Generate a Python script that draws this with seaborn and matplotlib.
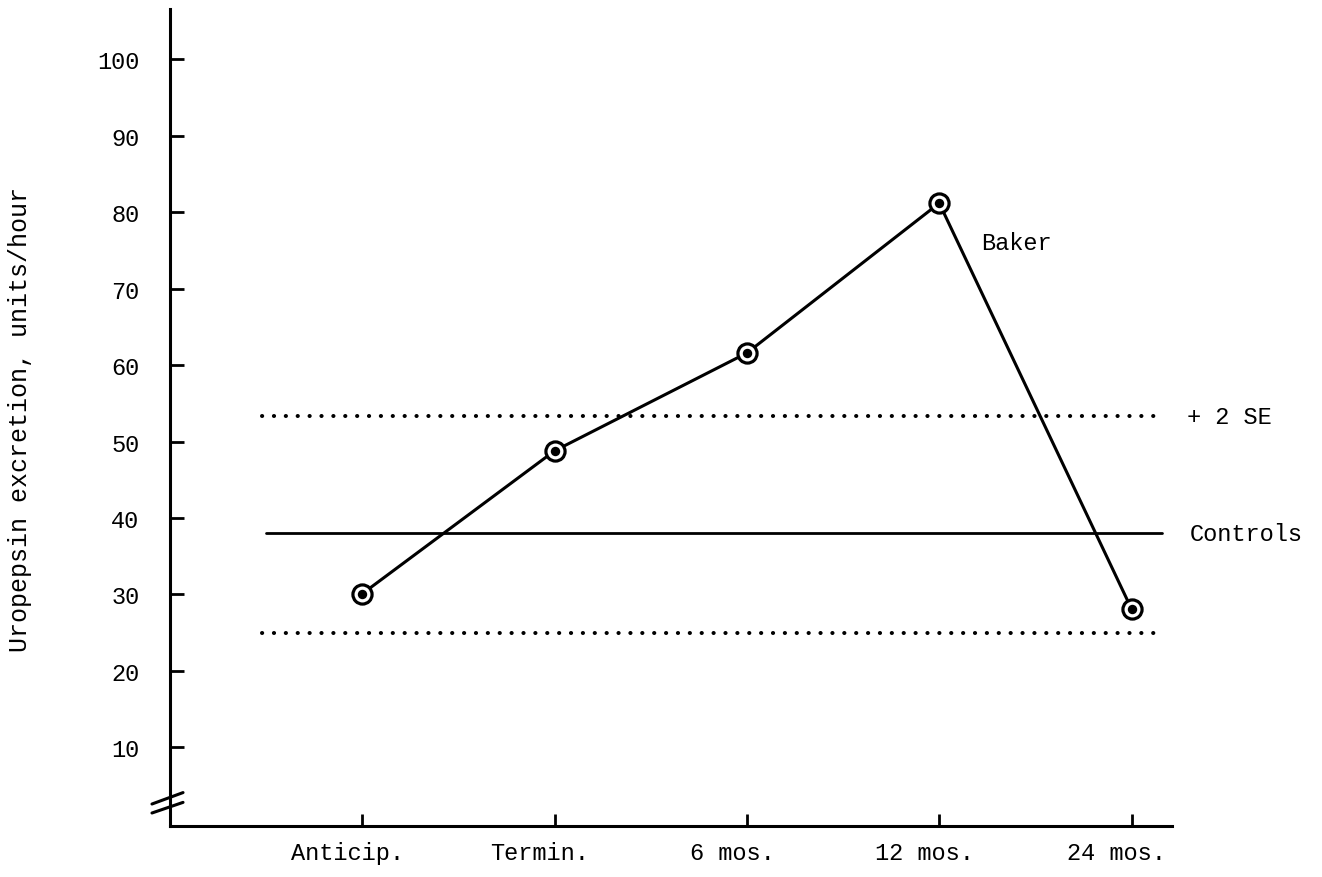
import numpy as np
import pandas as pd
import matplotlib
matplotlib.use("Agg")
import matplotlib.pyplot as plt
import matplotlib.transforms as mtransforms
import seaborn as sns

# Uropepsin excretion over the course of treatment (units/hour)
periods = ["Anticip.", "Termin.", "6 mos.", "12 mos.", "24 mos."]
baker = [30.1, 48.8, 61.6, 81.2, 28.1]

# Control group mean and +/- 2 SE band
control_mean = 38.0
control_upper = 53.3
control_lower = 24.9

ytick_values = [10, 20, 30, 40, 50, 60, 70, 80, 90, 100]

sns.set_theme(style="white")
plt.rcParams["font.family"] = ["Liberation Mono", "DejaVu Sans"]
plt.rcParams["text.color"] = "black"
plt.rcParams["xtick.color"] = "black"
plt.rcParams["ytick.color"] = "black"
FS = 17

fig = plt.figure(figsize=(13.22, 8.78), dpi=100)
ax = fig.add_axes([0.1286, 0.0580, 0.7579, 0.9306])

df = pd.DataFrame({"pos": np.arange(len(periods)), "value": baker, "period": periods})

# Baker series: line, ringed markers with a filled centre
sns.lineplot(data=df, x="pos", y="value", color="black", linewidth=2.2, ax=ax, zorder=2)
sns.scatterplot(data=df, x="pos", y="value", s=190, marker="o", facecolor="white",
                edgecolor="black", linewidth=2.3, ax=ax, zorder=3)
sns.scatterplot(data=df, x="pos", y="value", s=46, marker="o", color="black",
                edgecolor="black", linewidth=0, ax=ax, zorder=4)

# Controls: mean as a solid line, limits as dotted lines
ax.plot([-0.5, 4.16], [control_mean, control_mean], color="black", linewidth=2.0, zorder=1)
for lim in (control_upper, control_lower):
    ax.plot([-0.52, 4.15], [lim, lim], color="black", linewidth=2.9,
            linestyle=(0, (0.05, 2.9)), dash_capstyle="round", zorder=1)

ax.text(3.22, 76.1, "Baker", fontsize=FS, va="center", ha="left")
ax.text(4.29, control_upper, "+ 2 SE", fontsize=FS, va="center", ha="left")
ax.text(4.30, control_mean, "Controls", fontsize=FS, va="center", ha="left")

ax.set_xlim(-1.0, 4.21)
ax.set_ylim(-0.3, 106.6)

ax.set_xticks(np.arange(len(periods)))
ax.set_xticklabels(periods, fontsize=FS)
ax.set_yticks(ytick_values)
ax.set_yticklabels([str(v) for v in ytick_values], fontsize=FS)
ax.tick_params(axis="y", left=True, direction="in", length=10, width=2.0, pad=22)
ax.tick_params(axis="x", bottom=True, direction="in", length=8.5, width=2.0, pad=11)
ax.set_xlabel("")
ax.set_ylabel("")

# Period labels sit a little left of their ticks
shift = mtransforms.ScaledTranslation(-15 / 100, 0, fig.dpi_scale_trans)
for lbl in ax.get_xticklabels():
    lbl.set_transform(lbl.get_transform() + shift)

for side in ("top", "right"):
    ax.spines[side].set_visible(False)
for side in ("left", "bottom"):
    ax.spines[side].set_linewidth(2.2)
    ax.spines[side].set_color("black")

# Axis break marks on the y axis
for y0, y1 in ((0.016, 0.029), (0.027, 0.041)):
    ax.plot([-0.018, 0.013], [y0, y1], transform=ax.transAxes, color="black",
            linewidth=2.2, clip_on=False, zorder=5)

fig.text(20 / 1322, 1 - 419 / 878, "Uropepsin excretion, units/hour", rotation=90,
         fontsize=18, ha="center", va="center")

fig.savefig("out.png", dpi=100, facecolor="white")
